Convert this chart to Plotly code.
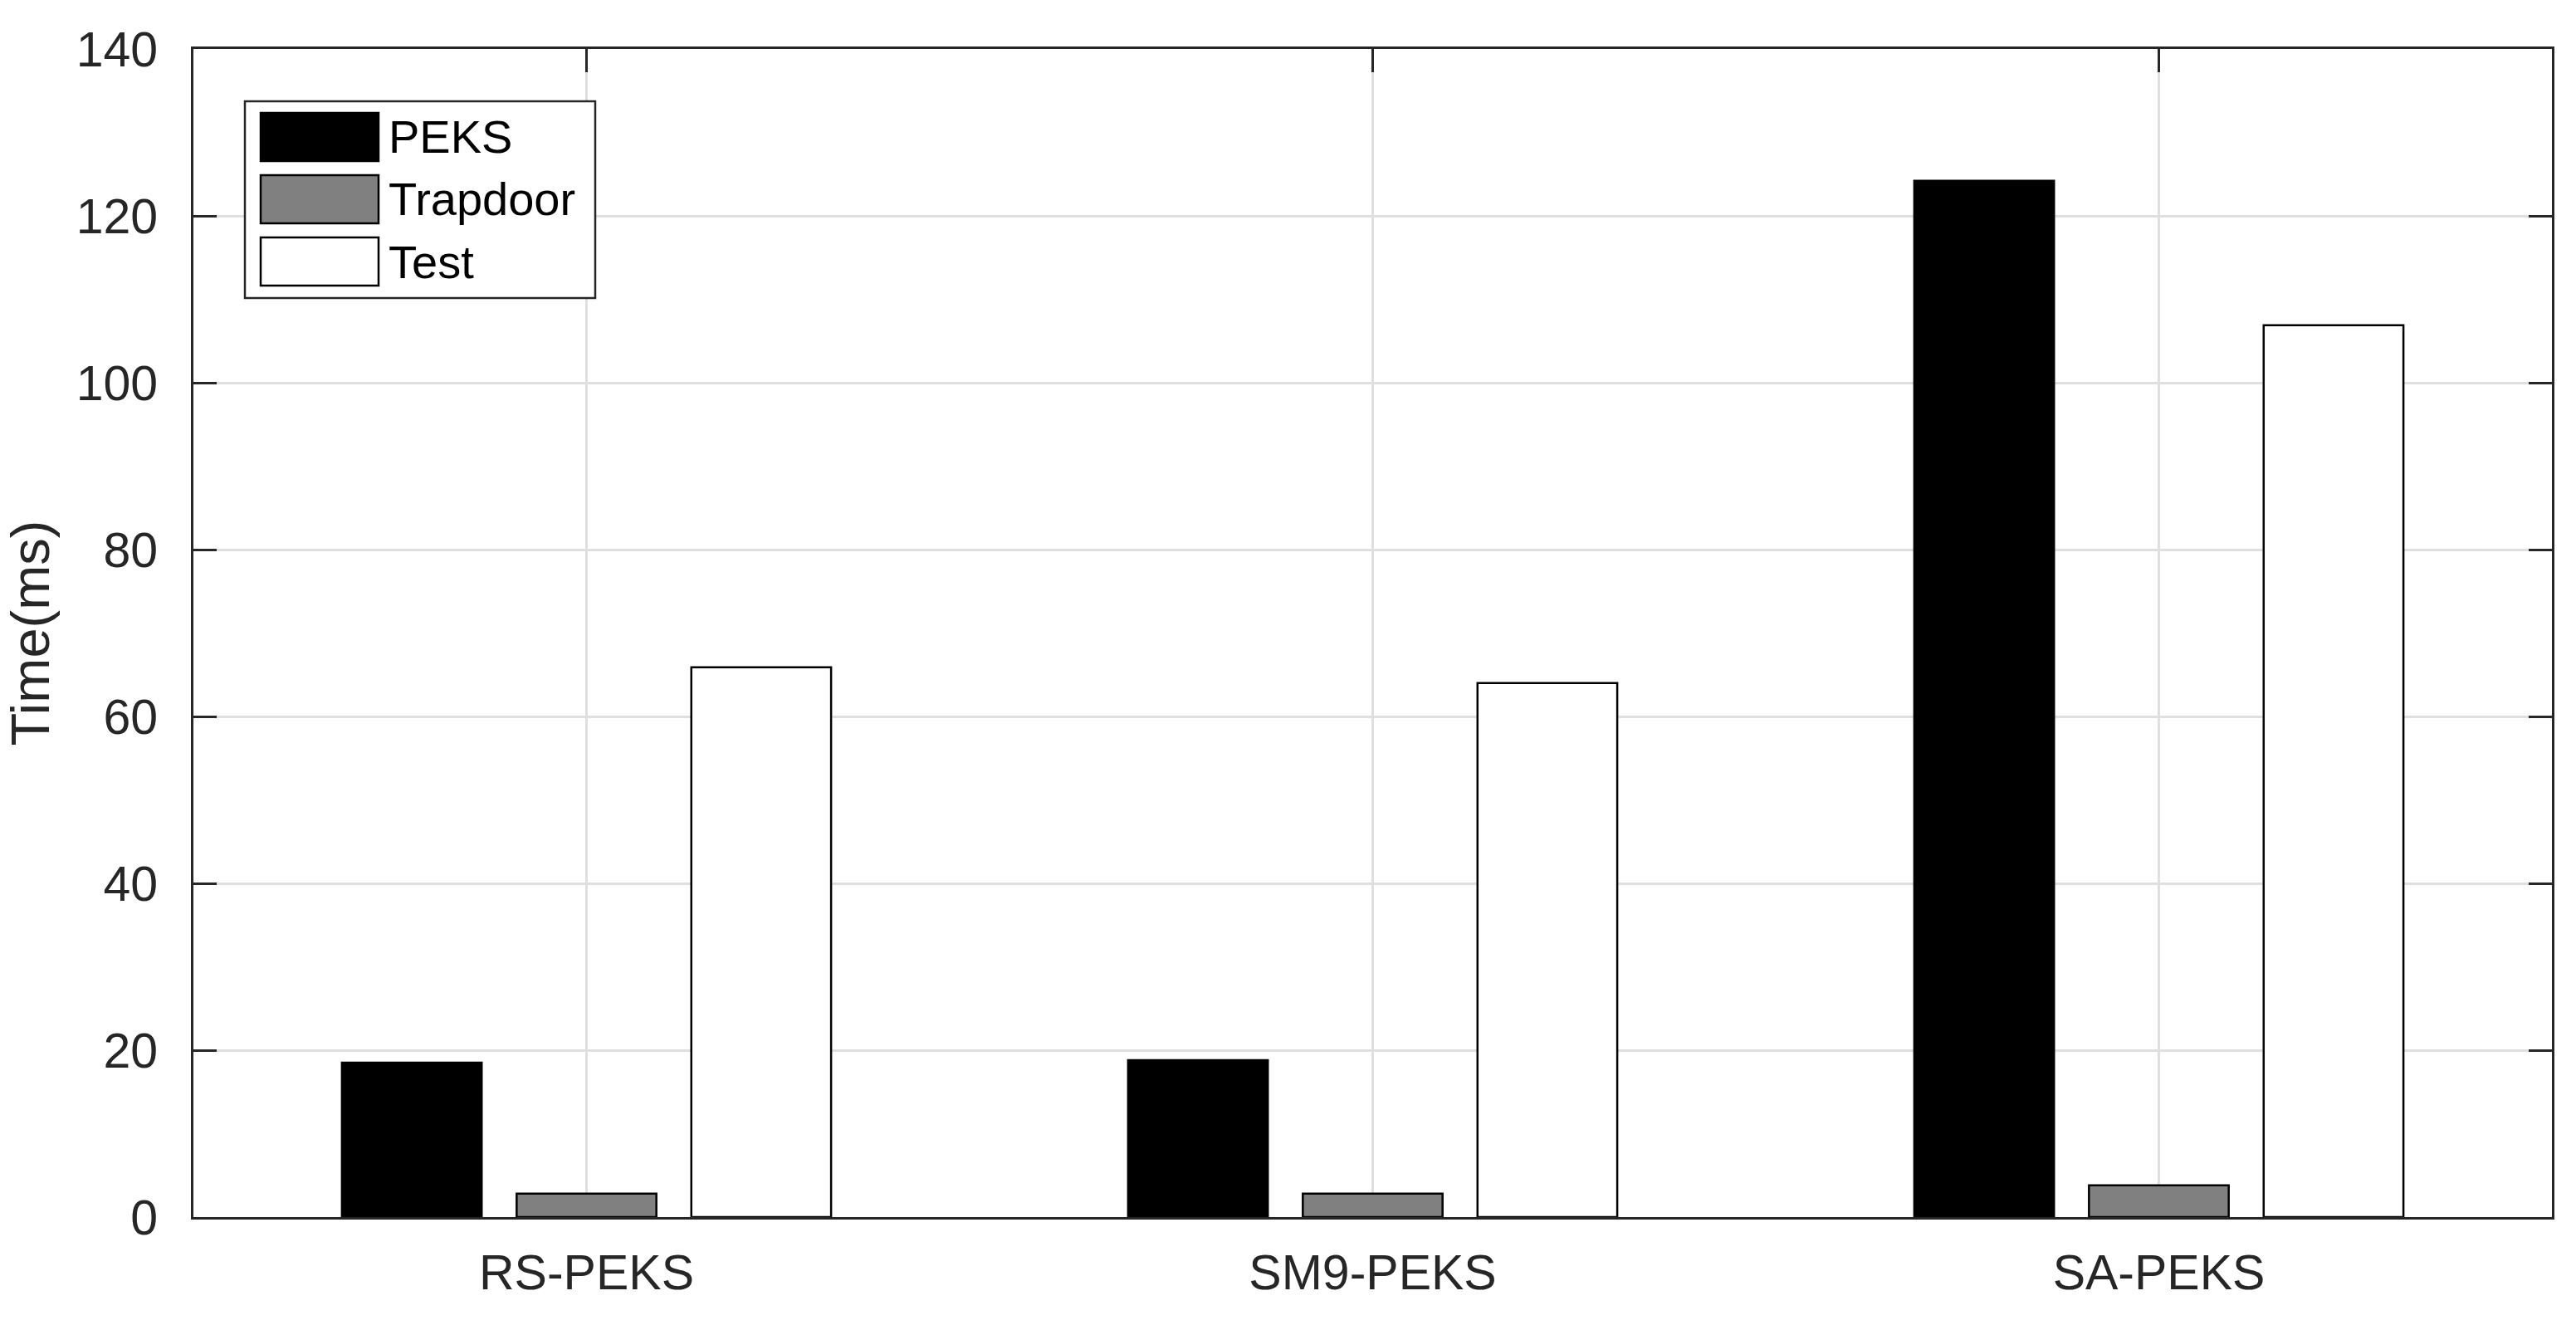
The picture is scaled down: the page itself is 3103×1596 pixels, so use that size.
import plotly.graph_objects as go

# ---- data ----
categories = ["RS-PEKS", "SM9-PEKS", "SA-PEKS"]
series_names = ["PEKS", "Trapdoor", "Test"]
peks = [18.5, 18.8, 124.2]
trapdoor = [2.8, 2.8, 3.8]
test = [65.9, 64.0, 106.9]
y_ticks = [0, 20, 40, 60, 80, 100, 120, 140]

# ---- style ----
W, H = 3103, 1596
L, R, T, B = 233, 3074, 59, 1466
fills = ["#000000", "#808080", "#ffffff"]
axis_col = "#262626"
grid_col = "#dfdfdf"
font_fam = "Liberation Sans, Arial, sans-serif"

fig = go.Figure()
for name, vals, col in zip(series_names, [peks, trapdoor, test], fills):
    fig.add_trace(go.Bar(
        x=categories, y=vals, name=name,
        marker=dict(color=col, line=dict(color="#000000", width=2.5)),
        showlegend=False,
    ))

fig.update_layout(
    width=W, height=H,
    margin=dict(l=L, r=W - R, t=T, b=H - B, autoexpand=False),
    paper_bgcolor="white", plot_bgcolor="white",
    barmode="group", bargap=1/3, bargroupgap=0.2,
    font=dict(family=font_fam, color=axis_col, size=59),
)

fig.update_xaxes(
    range=[-0.5, 2.5], type="category",
    showline=True, linecolor=axis_col, linewidth=3, mirror="allticks",
    ticks="inside", ticklen=28, tickwidth=3, tickcolor=axis_col,
    showgrid=True, gridcolor=grid_col, gridwidth=2.5,
    tickfont=dict(size=59, color=axis_col, family=font_fam),
    ticklabelstandoff=13,
    zeroline=False,
    layer="below traces",
)
fig.update_yaxes(
    range=[0, 140], tickvals=y_ticks,
    showline=True, linecolor=axis_col, linewidth=3, mirror="allticks",
    ticks="inside", ticklen=28, tickwidth=3, tickcolor=axis_col,
    showgrid=True, gridcolor=grid_col, gridwidth=2.5,
    tickfont=dict(size=59, color=axis_col, family=font_fam),
    ticklabelstandoff=28,
    zeroline=False,
    title=dict(text="Time(ms)", font=dict(size=65, color=axis_col, family=font_fam), standoff=30),
)

# ---- custom legend (large swatches like the original) ----
def px_x(p):
    return (p - L) / (R - L)

def px_y(p):
    return (B - p) / (B - T)

shapes = [dict(type="rect", xref="paper", yref="paper",
               x0=px_x(295), x1=px_x(717), y0=px_y(359), y1=px_y(122),
               line=dict(color=axis_col, width=2.5), fillcolor="white", layer="above")]
annotations = []
row_tops = [136, 211, 286]
sw_h = 58
for name, col, top in zip(series_names, fills, row_tops):
    shapes.append(dict(type="rect", xref="paper", yref="paper",
                       x0=px_x(314), x1=px_x(456), y0=px_y(top + sw_h), y1=px_y(top),
                       line=dict(color="#000000", width=2.5), fillcolor=col, layer="above"))
    annotations.append(dict(xref="paper", yref="paper", x=px_x(466), y=px_y(top + sw_h / 2),
                            text=name, showarrow=False, xanchor="left", yanchor="middle",
                            font=dict(size=56, color="#000000", family=font_fam)))
fig.update_layout(shapes=shapes, annotations=annotations)

fig.write_html(
    "out.html",
    config={"displayModeBar": False},
    post_script="document.body.style.margin='0';document.body.style.overflow='hidden';",
)
